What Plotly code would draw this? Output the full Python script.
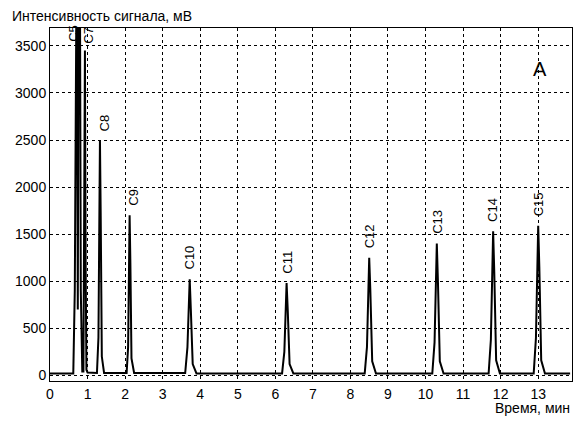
import plotly.graph_objects as go

# chromatogram trace
time_min = [
    0.00, 0.62, 0.66, 0.68, 0.70, 0.72, 0.74, 0.76, 0.78, 0.80, 0.82, 0.84, 0.86,
    0.89, 0.91, 0.93, 0.95, 0.97, 1.00,
    1.25, 1.29, 1.31, 1.33, 1.35, 1.38, 1.44,
    2.04, 2.08, 2.10, 2.12, 2.14, 2.17, 2.24,
    3.60, 3.66, 3.70, 3.72, 3.75, 3.80, 3.90,
    6.18, 6.24, 6.28, 6.30, 6.33, 6.38, 6.48,
    8.38, 8.44, 8.48, 8.50, 8.53, 8.58, 8.68,
    10.18, 10.24, 10.28, 10.30, 10.33, 10.38, 10.48,
    11.68, 11.74, 11.78, 11.80, 11.83, 11.88, 11.98,
    12.88, 12.94, 12.98, 13.00, 13.03, 13.08, 13.18,
    13.85,
]
signal_mv = [
    20, 20, 900, 3800, 3800, 3800, 700, 3800, 3800, 3800, 900, 60, 40,
    40, 1200, 3450, 1100, 60, 30,
    25, 400, 2100, 2500, 1700, 200, 25,
    25, 300, 1300, 1700, 1200, 180, 25,
    25, 300, 850, 1020, 700, 120, 20,
    20, 250, 800, 980, 700, 120, 20,
    20, 300, 1000, 1250, 900, 150, 20,
    20, 350, 1150, 1400, 1000, 150, 20,
    20, 380, 1250, 1530, 1100, 160, 20,
    20, 400, 1300, 1590, 1150, 160, 20,
    20,
]

peak_names = ["C5", "C7", "C8", "C9", "C10", "C11", "C12", "C13", "C14", "C15"]
peak_times = [0.62, 1.02, 1.45, 2.22, 3.72, 6.30, 8.50, 10.30, 11.80, 13.00]
label_y = [3520, 3500, 2570, 1780, 1100, 1060, 1330, 1480, 1610, 1670]

fig = go.Figure()
fig.add_trace(go.Scatter(x=time_min, y=signal_mv, mode="lines",
                         line=dict(color="black", width=2)))

for name, t, y in zip(peak_names, peak_times, label_y):
    fig.add_annotation(x=t, y=y, text=name, showarrow=False, textangle=-90,
                       yanchor="bottom", font=dict(size=13, color="black"))

fig.add_annotation(x=13.05, y=3250, text="A", showarrow=False,
                   font=dict(size=20, color="black"))
fig.add_annotation(x=0, y=1, xref="paper", yref="paper", text="Интенсивность сигнала, мВ",
                   showarrow=False, xanchor="left", yanchor="bottom", xshift=-40, yshift=2,
                   font=dict(size=14, color="black"))
fig.add_annotation(x=1, y=0, xref="paper", yref="paper", text="Время, мин",
                   showarrow=False, xanchor="right", yanchor="top", yshift=-17,
                   font=dict(size=14, color="black"))

grid = dict(showgrid=True, gridcolor="black", griddash="dot", gridwidth=1,
            showline=True, linecolor="black", linewidth=1, mirror=True,
            zeroline=False, ticks="", tickfont=dict(size=14, color="black"))
fig.update_xaxes(range=[0, 13.9], dtick=1, **grid)
fig.update_yaxes(range=[-60, 3690], dtick=500, **grid)
fig.update_layout(width=568, height=409, showlegend=False,
                  plot_bgcolor="white", paper_bgcolor="white",
                  font=dict(family="Liberation Sans, Arial", color="black"),
                  margin=dict(l=42, r=4, t=20, b=36))
fig.write_html("out.html")
